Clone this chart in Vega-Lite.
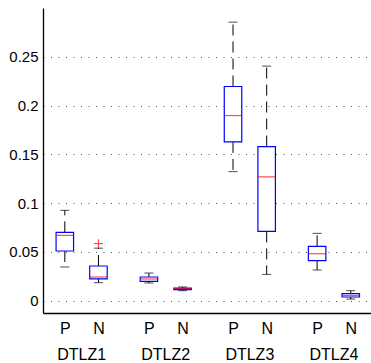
{
  "$schema": "https://vega.github.io/schema/vega-lite/v6.json",
  "width": 328,
  "height": 305,
  "autosize": {"type": "none"},
  "padding": {"left": 43, "top": 8, "right": 0, "bottom": 50},
  "background": "white",
  "config": {
    "view": {"stroke": null},
    "font": "Liberation Sans",
    "axis": {"labelFont": "Liberation Sans", "labelColor": "black", "domainColor": "black"}
  },
  "datasets": {
    "boxes": [
      {"problem": "DTLZ1", "alg": "P", "pos": 1, "lower": 0.0344, "q1": 0.0508, "median": 0.0668, "q3": 0.0699, "upper": 0.0925},
      {"problem": "DTLZ1", "alg": "N", "pos": 2, "lower": 0.0183, "q1": 0.0221, "median": 0.0241, "q3": 0.0354, "upper": 0.0537},
      {"problem": "DTLZ2", "alg": "P", "pos": 3.5, "lower": 0.0180, "q1": 0.0196, "median": 0.0221, "q3": 0.0241, "upper": 0.0282},
      {"problem": "DTLZ2", "alg": "N", "pos": 4.5, "lower": 0.0101, "q1": 0.0111, "median": 0.0121, "q3": 0.0128, "upper": 0.0139},
      {"problem": "DTLZ3", "alg": "P", "pos": 6, "lower": 0.1322, "q1": 0.1627, "median": 0.1897, "q3": 0.2195, "upper": 0.2855},
      {"problem": "DTLZ3", "alg": "N", "pos": 7, "lower": 0.0268, "q1": 0.0709, "median": 0.1268, "q3": 0.1579, "upper": 0.2404},
      {"problem": "DTLZ4", "alg": "P", "pos": 8.5, "lower": 0.0313, "q1": 0.0409, "median": 0.0480, "q3": 0.0555, "upper": 0.0689},
      {"problem": "DTLZ4", "alg": "N", "pos": 9.5, "lower": 0.0015, "q1": 0.0036, "median": 0.0052, "q3": 0.0070, "upper": 0.0101}
    ],
    "outliers": [
      {"problem": "DTLZ1", "alg": "N", "pos": 2, "value": 0.0583}
    ],
    "groups": [
      {"problem": "DTLZ1", "center": 1.5},
      {"problem": "DTLZ2", "center": 4},
      {"problem": "DTLZ3", "center": 6.5},
      {"problem": "DTLZ4", "center": 9}
    ]
  },
  "layer": [
    {
      "data": {"name": "boxes"},
      "mark": {"type": "rule", "stroke": "black", "strokeWidth": 1, "strokeDash": [11, 6]},
      "encoding": {
        "x": {
          "field": "pos", "type": "quantitative",
          "scale": {"domain": [0.5, 9.953], "nice": false, "zero": false},
          "axis": {
            "title": null, "values": [1, 2, 3.5, 4.5, 6, 7, 8.5, 9.5],
            "labelExpr": "indexof([1, 3.5, 6, 8.5], datum.value) >= 0 ? 'P' : 'N'",
            "labelFontSize": 16, "labelPadding": 7, "ticks": false, "grid": false,
            "domainWidth": 1.3, "labelFlush": false, "labelOverlap": false
          }
        },
        "y": {
          "field": "q3", "type": "quantitative",
          "scale": {"domain": [-0.0128, 0.3], "nice": false, "zero": false},
          "axis": {
            "title": null, "values": [0, 0.05, 0.1, 0.15, 0.2, 0.25],
            "format": "~g", "labelFontSize": 15, "labelPadding": 5, "ticks": false,
            "grid": true, "gridColor": "#555555", "gridDash": [1, 6.5], "gridWidth": 1,
            "domainWidth": 1.3
          }
        },
        "y2": {"field": "upper"}
      }
    },
    {
      "data": {"name": "boxes"},
      "mark": {"type": "rule", "stroke": "black", "strokeWidth": 1, "strokeDash": [11, 6]},
      "encoding": {
        "x": {"field": "pos", "type": "quantitative"},
        "y": {"field": "q1", "type": "quantitative"},
        "y2": {"field": "lower"}
      }
    },
    {
      "data": {"name": "boxes"},
      "mark": {"type": "tick", "orient": "horizontal", "color": "black", "size": 9, "thickness": 1},
      "encoding": {
        "x": {"field": "pos", "type": "quantitative"},
        "y": {"field": "upper", "type": "quantitative"}
      }
    },
    {
      "data": {"name": "boxes"},
      "mark": {"type": "tick", "orient": "horizontal", "color": "black", "size": 9, "thickness": 1},
      "encoding": {
        "x": {"field": "pos", "type": "quantitative"},
        "y": {"field": "lower", "type": "quantitative"}
      }
    },
    {
      "data": {"name": "boxes"},
      "mark": {"type": "bar", "fill": "white", "stroke": "#0000ff", "strokeWidth": 1.2, "size": 17.5},
      "encoding": {
        "x": {"field": "pos", "type": "quantitative"},
        "y": {"field": "q1", "type": "quantitative"},
        "y2": {"field": "q3"}
      }
    },
    {
      "data": {"name": "boxes"},
      "mark": {"type": "tick", "orient": "horizontal", "color": "#ff0000", "size": 17.5, "thickness": 1.2},
      "encoding": {
        "x": {"field": "pos", "type": "quantitative"},
        "y": {"field": "median", "type": "quantitative"}
      }
    },
    {
      "data": {"name": "outliers"},
      "mark": {"type": "point", "shape": "M-1,0L1,0M0,-1L0,1", "stroke": "#ff0000", "strokeWidth": 1.2, "size": 80, "filled": false},
      "encoding": {
        "x": {"field": "pos", "type": "quantitative"},
        "y": {"field": "value", "type": "quantitative"}
      }
    },
    {
      "mark": {"type": "rule", "stroke": "black", "strokeWidth": 1.3},
      "encoding": {"y": {"datum": 0.3, "type": "quantitative"}}
    },
    {
      "data": {"name": "groups"},
      "mark": {"type": "text", "fontSize": 16, "baseline": "middle", "align": "center", "dy": 42, "color": "black", "font": "Liberation Sans"},
      "encoding": {
        "x": {"field": "center", "type": "quantitative"},
        "y": {"datum": -0.0128, "type": "quantitative"},
        "text": {"field": "problem"}
      }
    }
  ]
}
